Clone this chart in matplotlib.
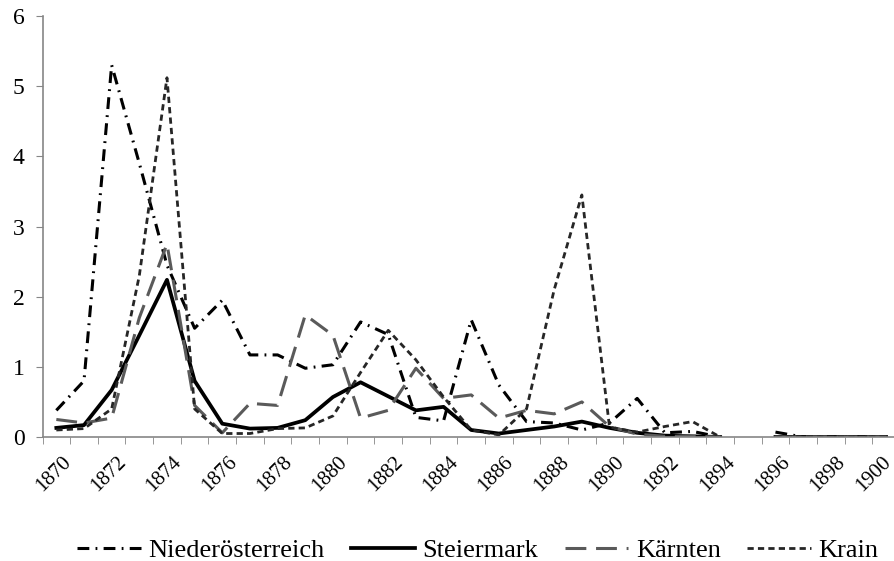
import numpy as np
import matplotlib.pyplot as plt
import matplotlib.transforms as mtransforms

plt.rcParams['font.family'] = ['Liberation Serif', 'DejaVu Serif']
plt.rcParams['lines.scale_dashes'] = False

# Jahre 1870-1900 (1895 fehlt)
years = list(range(1870, 1901))
nan = np.nan

niederoesterreich = [0.38, 0.8, 5.3, 3.9, 2.45, 1.55, 1.95, 1.17, 1.17, 0.98, 1.03,
                     1.64, 1.46, 0.28, 0.23, 1.67, 0.74, 0.22, 0.2, 0.1, 0.2,
                     0.55, 0.06, 0.08, 0.0, nan, 0.07, 0.0, 0.0, 0.0, 0.0]
steiermark = [0.13, 0.17, 0.67, 1.45, 2.24, 0.8, 0.19, 0.12, 0.13, 0.24, 0.57,
              0.78, 0.58, 0.38, 0.43, 0.1, 0.05, 0.1, 0.15, 0.22, 0.13,
              0.06, 0.02, 0.01, 0.0, nan, 0.0, 0.0, 0.0, 0.0, 0.0]
kaernten = [0.25, 0.2, 0.27, 1.7, 2.75, 0.45, 0.06, 0.48, 0.45, 1.74, 1.45,
            0.27, 0.38, 0.98, 0.55, 0.6, 0.27, 0.38, 0.33, 0.5, 0.15,
            0.04, 0.01, 0.01, 0.0, nan, 0.0, 0.0, 0.0, 0.0, 0.0]
krain = [0.1, 0.12, 0.4, 2.3, 5.12, 0.4, 0.05, 0.05, 0.12, 0.13, 0.3,
         0.92, 1.52, 1.1, 0.57, 0.1, 0.03, 0.4, 2.1, 3.45, 0.14,
         0.07, 0.15, 0.22, 0.0, nan, 0.0, 0.0, 0.0, 0.0, 0.0]

fig = plt.figure(figsize=(8.95, 5.61), dpi=100)
ax = fig.add_axes([0.0475, 0.221, 0.958, 0.7505])

x = np.arange(len(years))
ax.plot(x, niederoesterreich, color='black', lw=2.2, dashes=(8.5, 4.5, 1.3, 4.5),
        label='Niederösterreich')
ax.plot(x, steiermark, color='black', lw=2.7, label='Steiermark')
ax.plot(x, kaernten, color='#5a5a5a', lw=2.2, dashes=(15, 7), label='Kärnten')
ax.plot(x, krain, color='#262626', lw=2.0, dashes=(4.5, 3), label='Krain')

ax.set_xlim(-0.5, len(years) - 0.5)
ax.set_ylim(0, 6)
ax.set_yticks(range(0, 7))
ax.set_xticks(np.arange(-0.5, len(years), 1.0), minor=True)
ax.set_xticks(x[::2])
ax.set_xticklabels([str(y) for y in years[::2]], rotation=45, ha='center')
ax.tick_params(axis='x', which='major', length=0, pad=11, labelsize=15)
ax.tick_params(axis='x', which='minor', length=5, color='#868686')
ax.tick_params(axis='y', length=5, color='#868686', pad=8, labelsize=17)

# Jahreszahlen etwas nach links ruecken, die letzte etwas mehr
labels = ax.get_xticklabels()
for i, lab in enumerate(labels):
    dx = -9 if i == len(labels) - 1 else -2
    shift = mtransforms.ScaledTranslation(dx / 72, 0, fig.dpi_scale_trans)
    lab.set_transform(lab.get_transform() + shift)

for s in ['top', 'right']:
    ax.spines[s].set_visible(False)
for s in ['left', 'bottom']:
    ax.spines[s].set_color('#868686')
    ax.spines[s].set_linewidth(1.2)

fig.legend(loc='lower center', bbox_to_anchor=(0.534, -0.045), ncol=4, frameon=False,
           fontsize=19, handlelength=2.4, handletextpad=0.3, columnspacing=1.0)

fig.savefig('out.png', dpi=100)
